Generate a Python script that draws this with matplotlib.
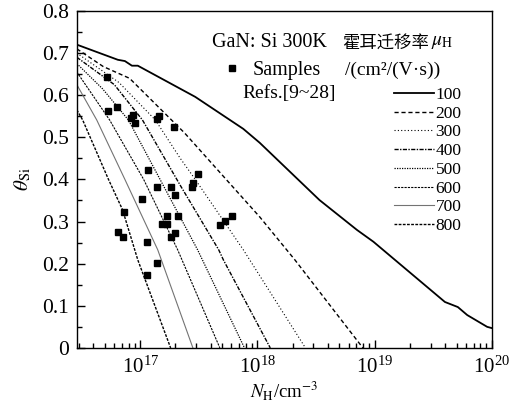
import numpy as np
import matplotlib
matplotlib.use("Agg")
import matplotlib.pyplot as plt
from matplotlib.ticker import LogLocator, MultipleLocator, NullFormatter

plt.rcParams['font.family'] = ['Liberation Serif', 'Noto Sans CJK SC']
plt.rcParams['mathtext.fontset'] = 'stix'

# measured samples (log10 N_H, theta_Si)
sample_logn = [16.72, 16.73, 16.80, 16.92, 16.94, 16.96, 17.14, 17.16, 17.29,
               17.49, 17.45, 17.44, 17.07, 17.14, 17.26, 17.30, 17.02, 16.86,
               16.81, 16.85, 17.06, 17.14, 17.06, 17.23, 17.19, 17.23, 17.26,
               17.30, 17.32, 17.68, 17.72, 17.78]
sample_theta = [0.643, 0.562, 0.572, 0.546, 0.553, 0.534, 0.544, 0.551, 0.524,
                0.413, 0.392, 0.383, 0.423, 0.383, 0.383, 0.363, 0.354, 0.323,
                0.275, 0.263, 0.252, 0.202, 0.173, 0.313, 0.294, 0.294, 0.264,
                0.273, 0.313, 0.292, 0.302, 0.313]

# calculated curves for each Hall mobility (cm2/(V s))
mobilities = ['100', '200', '300', '400', '500', '600', '700', '800']
curve_logn = [
    [16.46, 16.81, 16.87, 16.93, 16.98, 17.47, 17.88, 18.02, 18.53, 18.85,
     18.99, 19.60, 19.71, 19.79, 19.96, 20.0],
    [16.46, 16.685, 16.91, 17.38, 18.02, 18.32, 18.90],
    [16.46, 16.82, 17.13, 17.34, 17.47, 17.88, 18.41],
    [16.46, 16.78, 17.02, 17.34, 17.67, 17.71, 18.11],
    [16.46, 16.68, 16.90, 17.17, 17.49, 17.89],
    [16.46, 16.74, 17.03, 17.32, 17.68],
    [16.46, 16.63, 16.87, 17.15, 17.45],
    [16.46, 16.51, 16.73, 16.85, 16.98, 17.26],
]
curve_theta = [
    [0.72, 0.684, 0.681, 0.670, 0.670, 0.596, 0.52, 0.487, 0.351, 0.28,
     0.252, 0.109, 0.097, 0.078, 0.050, 0.047],
    [0.71, 0.668, 0.64, 0.51, 0.311, 0.209, 0.0],
    [0.70, 0.63, 0.541, 0.451, 0.40, 0.233, 0.0],
    [0.69, 0.625, 0.541, 0.387, 0.233, 0.209, 0.0],
    [0.675, 0.615, 0.541, 0.40, 0.233, 0.0],
    [0.655, 0.541, 0.40, 0.233, 0.0],
    [0.625, 0.541, 0.40, 0.233, 0.0],
    [0.565, 0.541, 0.40, 0.328, 0.209, 0.0],
]

styles = [
    dict(ls='-', lw=1.3, color='black'),
    dict(ls=(0, (3, 2)), lw=1.0, color='black'),
    dict(ls=(0, (1, 2)), lw=0.8, color='black'),
    dict(ls=(0, (3, 1, 1, 1)), lw=1.0, color='black'),
    dict(ls=(0, (1, 1)), lw=0.9, color='black'),
    dict(ls=(0, (2, 1)), lw=0.8, color='black'),
    dict(ls='-', lw=0.8, color='0.45'),
    dict(ls=(0, (2, 1)), lw=1.0, color='black'),
]

fig = plt.figure(figsize=(5.21, 4.05), dpi=100)
ax = fig.add_axes([0.148, 0.141, 0.796, 0.832])

handles = []
for logn, th, lab, st in zip(curve_logn, curve_theta, mobilities, styles):
    h, = ax.plot(10 ** np.array(logn), th, label=lab, **st)
    handles.append(h)

sq, = ax.plot(10 ** np.array(sample_logn), sample_theta, 's', color='black',
              ms=4, ls='none')

ax.set_xscale('log')
ax.set_xlim(2.9e16, 1e20)
ax.set_ylim(0, 0.8)
ax.yaxis.set_minor_locator(MultipleLocator(0.05))
ax.xaxis.set_major_locator(LogLocator(base=10, numticks=10))
ax.xaxis.set_minor_locator(LogLocator(base=10, subs=np.arange(2, 10), numticks=20))
ax.xaxis.set_minor_formatter(NullFormatter())
ax.set_yticks([0, 0.1, 0.2, 0.3, 0.4, 0.5, 0.6, 0.7, 0.8])
ax.set_yticklabels(['0', '0.1', '0.2', '0.3', '0.4', '0.5', '0.6', '0.7', '0.8'])
ax.tick_params(which='both', direction='in', top=False, right=False, width=1.0)
ax.tick_params(axis='y', labelsize=15.5)
ax.tick_params(axis='x', labelsize=15)
ax.tick_params(which='major', length=6, pad=6)
ax.tick_params(which='minor', length=3.5)
for s in ax.spines.values():
    s.set_linewidth(1.0)

ax.set_xlabel(r'$N_\mathrm{H}$/cm$^{-3}$', fontsize=13.5, labelpad=1)
ax.set_ylabel(r'$\theta_\mathrm{Si}$', fontsize=15, labelpad=6)

leg = ax.legend(handles=handles, labels=mobilities, loc='upper left',
                bbox_to_anchor=(0.764, 0.775), frameon=False, fontsize=12.5,
                handlelength=2.3, handletextpad=0.1, labelspacing=0.15,
                borderpad=0, borderaxespad=0)
ax.add_artist(leg)
ax.legend(handles=[sq], labels=['Samples'], loc='center left',
          bbox_to_anchor=(0.355, 0.823), frameon=False, fontsize=14.5,
          handlelength=0.8, handletextpad=0.6, borderpad=0, borderaxespad=0)

ax.text(0.325, 0.905, 'GaN: Si 300K', transform=ax.transAxes, fontsize=14.5,
        va='center', ha='left')
ax.text(0.398, 0.754, 'Refs.[9~28]', transform=ax.transAxes, fontsize=14,
        va='center', ha='left')
ax.text(0.639, 0.905, '霍耳迁移率', transform=ax.transAxes,
        family='Noto Sans CJK SC', fontsize=12.5, va='center', ha='left')
ax.text(0.853, 0.905, r'$\mu_\mathrm{H}$', transform=ax.transAxes,
        fontsize=14, va='center', ha='left')
ax.text(0.646, 0.825, '/(cm²/(V·s))', transform=ax.transAxes,
        fontsize=14, va='center', ha='left')

fig.savefig('out.png', dpi=100)
